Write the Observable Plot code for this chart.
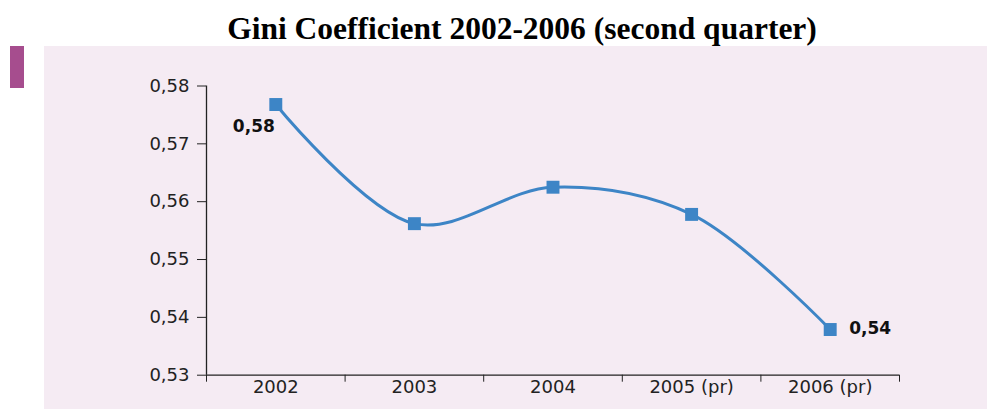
<!DOCTYPE html>
<html>
<head>
<meta charset="utf-8">
<script src="https://cdn.jsdelivr.net/npm/d3@7"></script>
<script src="https://cdn.jsdelivr.net/npm/@observablehq/plot@0.6"></script>
<style>
  html, body { margin: 0; padding: 0; background: #ffffff; overflow: hidden; }
  #wrap { position: relative; width: 987px; height: 410px; }
  #title { position: absolute; left: 122px; top: 13px; width: 800px; text-align: center;
           font-family: "Liberation Serif", "Times New Roman", serif; font-weight: bold;
           font-size: 31.5px; line-height: 32px; color: #000; white-space: nowrap; }
  #bar { position: absolute; left: 10px; top: 46px; width: 14px; height: 42px; background: #a64d8e; }
  #panel { position: absolute; left: 44px; top: 46px; width: 943px; height: 363px; background: #f5ebf3; }
</style>
</head>
<body>
<div id="wrap">
  <div id="title">Gini Coefficient 2002-2006 (second quarter)</div>
  <div id="bar"></div>
  <div id="panel"></div>
</div>
<script>
const categories = ["2002", "2003", "2004", "2005 (pr)", "2006 (pr)"];
const gini = [0.5768, 0.5562, 0.5625, 0.5578, 0.5379];
const yTicks = [0.53, 0.54, 0.55, 0.56, 0.57, 0.58];
const labeledIndex = [0, 4];

const data = categories.map((c, i) => ({cat: c, pos: i + 0.5, value: gini[i]}));
const fmt = v => d3.format(".2f")(v).replace(".", ",");
const boundaries = d3.range(categories.length + 1);
const centers = categories.map((c, i) => i + 0.5);

const lineColor = "#3d85c6";
const axisColor = "#222";

const chart = Plot.plot({
  width: 943,
  height: 363,
  marginLeft: 162,
  marginRight: 88,
  marginTop: 39.5,
  marginBottom: 34.3,
  style: {background: "transparent", fontFamily: "'DejaVu Sans', sans-serif", fontSize: "18px", color: axisColor},
  x: {type: "linear", domain: [0, categories.length], label: null},
  y: {domain: [0.53, 0.58], label: null},
  marks: [
    Plot.axisY({ticks: yTicks, tickSize: 9, tickPadding: 8, tickFormat: fmt, stroke: axisColor, fill: axisColor, fontSize: 18, label: null}),
    Plot.axisX({ticks: boundaries, tickSize: 7, tickFormat: () => "", stroke: axisColor, label: null}),
    Plot.axisX({ticks: centers, tickSize: 0, tickPadding: 5, tickFormat: d => categories[Math.floor(d)], fill: axisColor, fontSize: 18, label: null}),
    Plot.ruleX([0], {stroke: axisColor, strokeWidth: 1.3}),
    Plot.ruleY([0.53], {stroke: axisColor, strokeWidth: 1.3}),
    Plot.line(data, {x: "pos", y: "value", stroke: lineColor, strokeWidth: 3, curve: "catmull-rom"}),
    Plot.dot(data, {x: "pos", y: "value", symbol: "square", r: 7.3, fill: lineColor, stroke: "none"}),
    Plot.text([data[labeledIndex[0]]], {x: "pos", y: "value", text: d => fmt(d.value), textAnchor: "end", dx: -1, dy: 22, fontWeight: "bold", fontSize: 17, fill: "#111"}),
    Plot.text([data[labeledIndex[1]]], {x: "pos", y: "value", text: d => fmt(d.value), textAnchor: "start", dx: 19, dy: -1, fontWeight: "bold", fontSize: 17, fill: "#111"})
  ]
});
chart.style.position = "absolute";
chart.style.left = "0px";
chart.style.top = "0px";
document.getElementById("panel").appendChild(chart);
</script>
</body>
</html>
